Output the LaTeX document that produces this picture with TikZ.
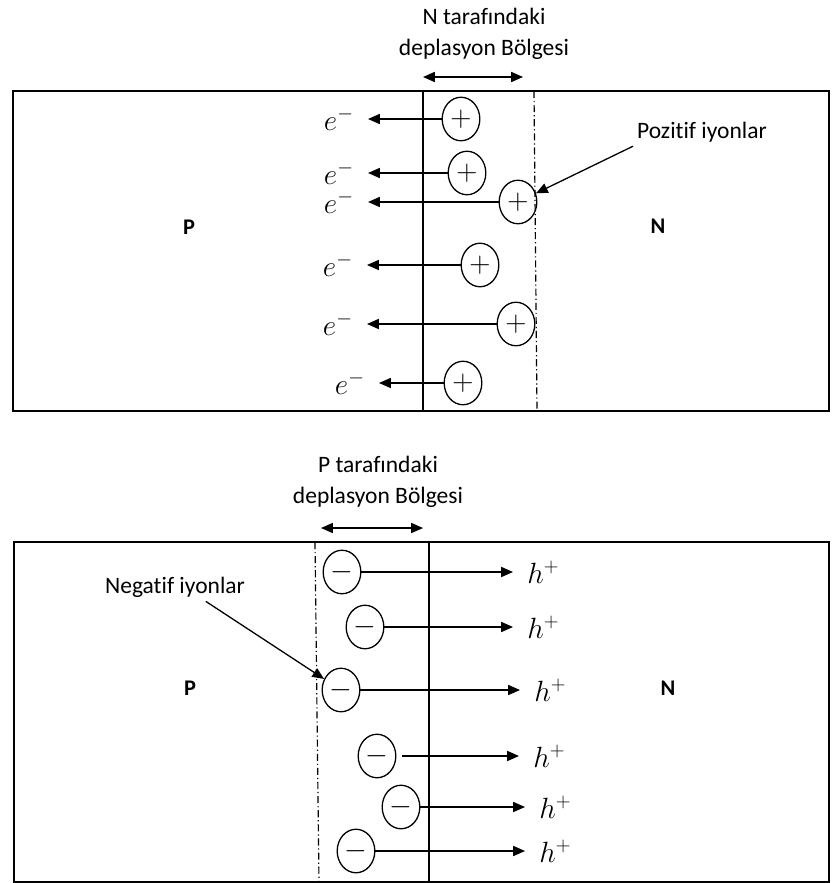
\documentclass[tikz,border=0pt]{standalone}
\usepackage[no-math]{fontspec}
\setmainfont[Ligatures=NoCommon]{Carlito}
\usetikzlibrary{arrows.meta}
\usetikzlibrary{shapes.geometric}

\tikzset{
  ion/.style={draw,ellipse,line width=1.1pt,minimum width=32pt,minimum height=37pt,
    inner sep=0pt,font=\fontsize{25}{25}\selectfont},
  carrier/.style={inner ysep=0pt,inner xsep=12pt,font=\fontsize{24}{26}\selectfont},
  txt/.style={align=center,font=\fontsize{20}{26}\selectfont},
  side/.style={font=\fontsize{19}{20}\selectfont\bfseries},
  flow/.style={-{Triangle[length=10pt,width=8.5pt]},line width=1.1pt},
  width/.style={{Triangle[length=10pt,width=8.5pt]}-{Triangle[length=10pt,width=8.5pt]},line width=1.1pt},
  edgeline/.style={line width=1pt,dash pattern=on 6pt off 2.5pt on 1pt off 2.5pt},
}

\begin{document}
\begin{tikzpicture}[x=0.85pt,y=-0.85pt]
\useasboundingbox (0,0) rectangle (832,883);

% N side: positive ions, electrons leave to the left
\draw[line width=1.6pt] (13,91) rectangle (829,411);
\draw[line width=1.2pt] (423,91) -- (423,411);
\draw[edgeline] (534,91) -- (537,411);
\node[side] (pa) at (189,227) {P};
\node[side] (na) at (658,226) {N};

\node[txt] (da) at (484,34) {N tarafındaki\\deplasyon Bölgesi};
\coordinate (da1) at (423,77);
\coordinate (da2) at (523,77);
\draw[width] (da1) -- (da2);

\node[ion] (p1) at (461,119) {$+$};
\node[ion] (p2) at (467,173) {$+$};
\node[ion] (p3) at (518,202) {$+$};
\node[ion] (p4) at (480,265) {$+$};
\node[ion] (p5) at (516,324) {$+$};
\node[ion] (p6) at (463,383) {$+$};

\node[carrier,anchor=east] (e1) at (368,119) {$e^-$};
\node[carrier,anchor=east] (e2) at (368,173) {$e^-$};
\node[carrier,anchor=east] (e3) at (368,202) {$e^-$};
\node[carrier,anchor=east] (e4) at (367,265) {$e^-$};
\node[carrier,anchor=east] (e5) at (367,324) {$e^-$};
\node[carrier,anchor=east] (e6) at (379,383) {$e^-$};

\foreach \i in {1,...,6}
  \draw[flow] (p\i) -- (p\i -| e\i.east);

\node[txt] (pos) at (702,132) {Pozitif iyonlar};
\draw[flow] (pos.south west) -- (p3);

% P side: negative ions, holes leave to the right
\draw[line width=1.6pt] (14,542) rectangle (829,882);
\draw[line width=1.2pt] (429,542) -- (429,882);
\draw[edgeline] (315,542) -- (319,882);
\node[side] (pb) at (190,688) {P};
\node[side] (nb) at (668,688) {N};

\node[txt] (db) at (378,482) {P tarafındaki\\deplasyon Bölgesi};
\coordinate (db1) at (321,528);
\coordinate (db2) at (423,528);
\draw[width] (db1) -- (db2);

\node[ion] (n1) at (342,572) {$-$};
\node[ion] (n2) at (365,627) {$-$};
\node[ion] (n3) at (341,690) {$-$};
\node[ion] (n4) at (377,756) {$-$};
\node[ion] (n5) at (401,807) {$-$};
\node[ion] (n6) at (356,851) {$-$};

\node[carrier,anchor=west] (h1) at (513,572) {$h^+$};
\node[carrier,anchor=west] (h2) at (513,627) {$h^+$};
\node[carrier,anchor=west] (h3) at (520,690) {$h^+$};
\node[carrier,anchor=west] (h4) at (519,756) {$h^+$};
\node[carrier,anchor=west] (h5) at (525,807) {$h^+$};
\node[carrier,anchor=west] (h6) at (525,851) {$h^+$};

\foreach \i in {1,2,3,5,6}
  \draw[flow] (n\i) -- (n\i -| h\i.west);
\draw[flow,shorten <=5pt] (n4) -- (n4 -| h4.west);

\node[txt] (neg) at (175,587) {Negatif iyonlar};
\draw[flow] (neg.-25) -- (n3);
\end{tikzpicture}
\end{document}
